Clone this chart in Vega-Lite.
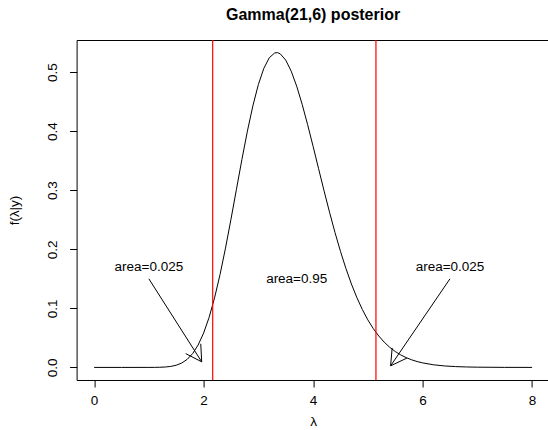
{
  "$schema": "https://vega.github.io/schema/vega-lite/v6.json",
  "autosize": "none",
  "width": 473,
  "height": 340,
  "padding": {"left": 76.6, "top": 40, "right": 0, "bottom": 50},
  "background": "white",
  "title": {"text": "Gamma(21,6) posterior", "font": "Liberation Sans", "fontSize": 16, "fontWeight": "bold", "color": "black", "anchor": "middle", "offset": 16.5},
  "config": {
    "font": "Liberation Sans",
    "view": {"stroke": "black", "strokeWidth": 1},
    "axis": {"grid": false, "domain": false, "tickColor": "black", "tickSize": 7, "tickWidth": 1, "labelColor": "black", "labelFont": "Liberation Sans", "labelFontSize": 13.5, "titleFont": "Liberation Sans", "titleFontSize": 13.5, "titleFontWeight": "normal", "titleColor": "black"}
  },
  "datasets": {
    "curve": [
      {"x": 0, "y": 0}, {"x": 0.5, "y": 0}, {"x": 1.0, "y": 0.00002}, {"x": 1.1, "y": 0.00008},
      {"x": 1.2, "y": 0.00026}, {"x": 1.3, "y": 0.0007}, {"x": 1.4, "y": 0.0017}, {"x": 1.5, "y": 0.0037},
      {"x": 1.6, "y": 0.00738}, {"x": 1.7, "y": 0.01362}, {"x": 1.8, "y": 0.02345}, {"x": 1.9, "y": 0.03795},
      {"x": 2.0, "y": 0.05809}, {"x": 2.1, "y": 0.08459}, {"x": 2.2, "y": 0.11771}, {"x": 2.3, "y": 0.15716},
      {"x": 2.4, "y": 0.20204}, {"x": 2.5, "y": 0.25086}, {"x": 2.6, "y": 0.30167}, {"x": 2.7, "y": 0.35217},
      {"x": 2.8, "y": 0.40001}, {"x": 2.9, "y": 0.44288}, {"x": 3.0, "y": 0.47883}, {"x": 3.1, "y": 0.5063},
      {"x": 3.2, "y": 0.52432}, {"x": 3.3, "y": 0.53248}, {"x": 3.35, "y": 0.53288}, {"x": 3.4, "y": 0.53091},
      {"x": 3.5, "y": 0.52027}, {"x": 3.6, "y": 0.50158}, {"x": 3.7, "y": 0.47616}, {"x": 3.8, "y": 0.44546},
      {"x": 3.9, "y": 0.41101}, {"x": 4.0, "y": 0.37427}, {"x": 4.1, "y": 0.33658}, {"x": 4.2, "y": 0.2991},
      {"x": 4.3, "y": 0.2628}, {"x": 4.4, "y": 0.22842}, {"x": 4.5, "y": 0.1965}, {"x": 4.6, "y": 0.16737},
      {"x": 4.7, "y": 0.14122}, {"x": 4.8, "y": 0.11809}, {"x": 4.9, "y": 0.09789}, {"x": 5.0, "y": 0.08047},
      {"x": 5.1, "y": 0.06562}, {"x": 5.2, "y": 0.05311}, {"x": 5.3, "y": 0.04266}, {"x": 5.4, "y": 0.03402},
      {"x": 5.5, "y": 0.02695}, {"x": 5.6, "y": 0.02121}, {"x": 5.7, "y": 0.01658}, {"x": 5.8, "y": 0.01289},
      {"x": 5.9, "y": 0.00996}, {"x": 6.0, "y": 0.00765}, {"x": 6.2, "y": 0.00444}, {"x": 6.4, "y": 0.00252},
      {"x": 6.6, "y": 0.00141}, {"x": 6.8, "y": 0.00077}, {"x": 7.0, "y": 0.00041}, {"x": 7.5, "y": 0.00008},
      {"x": 8.0, "y": 0.00001}
    ],
    "bounds": [{"x": 2.166}, {"x": 5.148}],
    "segments": [
      {"x": 1.0, "y": 0.15, "x2": 1.965, "y2": 0.0095},
      {"x": 1.965, "y": 0.0095, "x2": 1.948, "y2": 0.040},
      {"x": 1.965, "y": 0.0095, "x2": 1.673, "y2": 0.0234},
      {"x": 6.5, "y": 0.15, "x2": 5.416, "y2": 0.0027},
      {"x": 5.416, "y": 0.0027, "x2": 5.714, "y2": 0.0158},
      {"x": 5.416, "y": 0.0027, "x2": 5.444, "y2": 0.033}
    ],
    "labels": [
      {"x": 1.0, "y": 0.17, "label": "area=0.025"},
      {"x": 3.7, "y": 0.15, "label": "area=0.95"},
      {"x": 6.5, "y": 0.17, "label": "area=0.025"}
    ]
  },
  "layer": [
    {
      "data": {"name": "curve"},
      "mark": {"type": "line", "color": "black", "strokeWidth": 1, "clip": true},
      "encoding": {
        "x": {"field": "x", "type": "quantitative", "title": "λ", "scale": {"domain": [-0.32, 8.32], "nice": false, "zero": false},
              "axis": {"values": [0, 2, 4, 6, 8], "labelPadding": 7, "titlePadding": 7, "labelFlush": false, "labelOverlap": false}},
        "y": {"field": "y", "type": "quantitative", "title": "f(λ|y)", "scale": {"domain": [-0.0213, 0.5543], "nice": false, "zero": false},
              "axis": {"values": [0, 0.1, 0.2, 0.3, 0.4, 0.5], "format": ".1f", "labelAngle": -90, "labelAlign": "center", "labelBaseline": "bottom", "labelPadding": 10.5, "titlePadding": 23.5, "labelFlush": false, "labelOverlap": false}}
      }
    },
    {
      "data": {"name": "bounds"},
      "mark": {"type": "rule", "color": "#FF0000", "strokeWidth": 1.2},
      "encoding": {
        "x": {"field": "x", "type": "quantitative", "title": "λ"}
      }
    },
    {
      "data": {"name": "segments"},
      "mark": {"type": "rule", "color": "black", "strokeWidth": 1},
      "encoding": {
        "x": {"field": "x", "type": "quantitative", "title": "λ"},
        "y": {"field": "y", "type": "quantitative", "title": "f(λ|y)"},
        "x2": {"field": "x2"},
        "y2": {"field": "y2"}
      }
    },
    {
      "data": {"name": "labels"},
      "mark": {"type": "text", "color": "black", "font": "Liberation Sans", "fontSize": 13.5, "align": "center", "baseline": "middle"},
      "encoding": {
        "x": {"field": "x", "type": "quantitative", "title": "λ"},
        "y": {"field": "y", "type": "quantitative", "title": "f(λ|y)"},
        "text": {"field": "label"}
      }
    }
  ]
}
